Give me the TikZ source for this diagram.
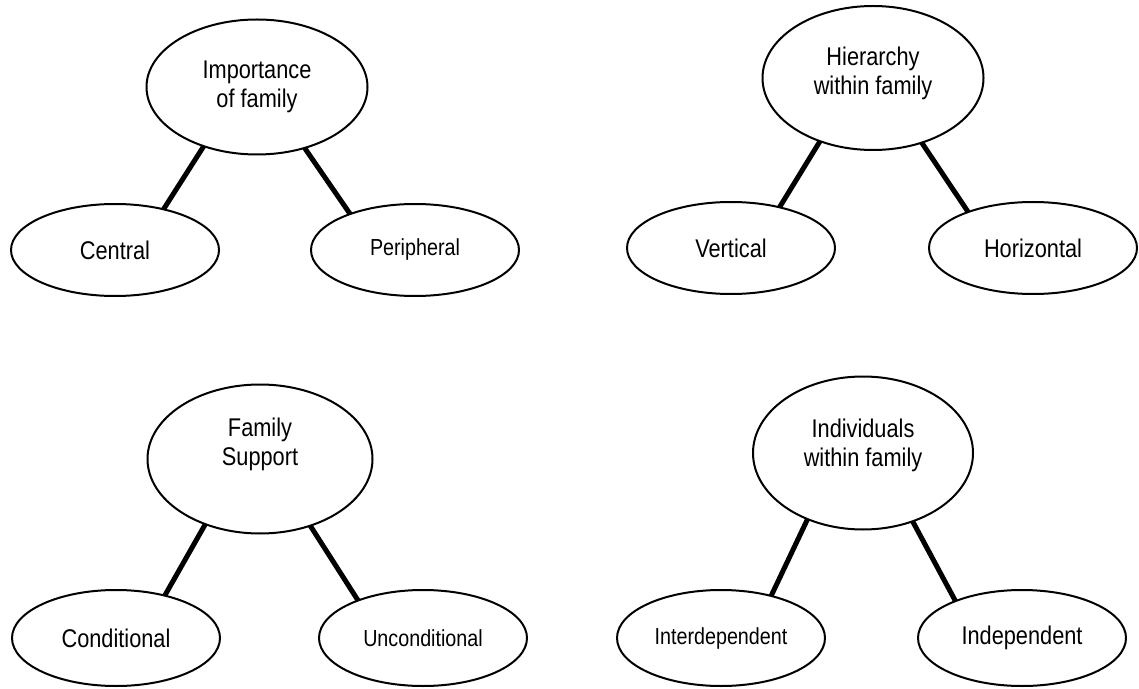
\documentclass[tikz,border=0pt]{standalone}
\usepackage{fontspec}
\setmainfont{Liberation Sans}[FakeStretch=0.85]
\usetikzlibrary{shapes.geometric}
\begin{document}
\begin{tikzpicture}[x=0.5pt,y=-0.5pt]
    \tikzstyle{every node}=[draw,shape=ellipse,line width=1pt,inner sep=0pt,outer sep=0pt,align=center,font=\fontsize{12.8}{14.5}\selectfont];
    \tikzstyle{rootnode}=[minimum width=110.5pt,minimum height=70pt];
    \tikzstyle{leafnode}=[minimum width=104pt,minimum height=46pt];
    \tikzstyle{smalltext}=[font=\fontsize{11.6}{13}\selectfont];
    \tikzstyle{branch}=[line width=2.5pt];
    \useasboundingbox (0,0) rectangle (1139,689);

    % importance of family
    \node at (257, 87) (imp) [rootnode,minimum height=67.5pt] {Importance\\of family};
    \node at (115, 250) (cen) [leafnode] {Central};
    \node at (415, 250) (per) [leafnode,smalltext] {Peripheral};
    \draw[branch] (imp.228) -- (cen.40);
    \draw[branch] (imp.308) -- (per.151);

    % hierarchy within family
    \node at (873, 78) (hie) [rootnode,minimum height=72pt] {Hierarchy\\within family\rule[-7pt]{0pt}{0pt}};
    \node at (731, 248) (ver) [leafnode] {Vertical};
    \node at (1033, 248) (hor) [leafnode] {Horizontal};
    \draw[branch] (hie.230) -- (ver.40);
    \draw[branch] (hie.307) -- (hor.151);

    % family support
    \node at (260, 459) (sup) [rootnode,minimum width=112.5pt,minimum height=74.5pt] {Family\\Support\rule[-17pt]{0pt}{0pt}};
    \node at (116, 638) (con) [leafnode,minimum height=48pt] {Conditional};
    \node at (423, 638) (unc) [leafnode,minimum height=48pt,smalltext] {Unconditional};
    \draw[branch] (sup.230) -- (con.41);
    \draw[branch] (sup.307) -- (unc.150);

    % individuals within family
    \node at (863, 453) (ind) [rootnode,minimum width=110pt,minimum height=76.5pt] {Individuals\\within family\rule[-10.5pt]{0pt}{0pt}};
    \node at (721, 638) (int) [leafnode,minimum height=48pt,smalltext] {Interdependent};
    \node at (1022, 638) (dep) [leafnode,minimum height=48pt] {Independent};
    \draw[branch] (ind.230) -- (int.40);
    \draw[branch] (ind.306) -- (dep.151);
\end{tikzpicture}
\end{document}
